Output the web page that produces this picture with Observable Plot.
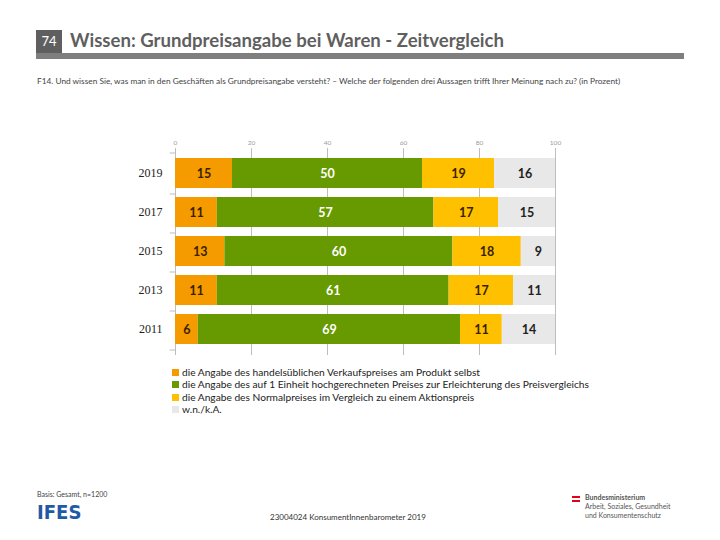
<!DOCTYPE html>
<html><head><meta charset="utf-8">
<script src="https://cdn.jsdelivr.net/npm/d3@7"></script>
<script src="https://cdn.jsdelivr.net/npm/@observablehq/plot@0.6"></script>
<style>
body{margin:0;background:#fff;font-family:Lato,"Open Sans",sans-serif;}
#page{position:relative;width:720px;height:540px;overflow:hidden;}
.abs{position:absolute;white-space:nowrap;}
</style></head>
<body><div id="page">
<div class="abs" style="left:36px;top:30px;width:26px;height:23px;background:#5f5f5f;color:#fff;font-size:13px;line-height:23px;text-align:center;">74</div>
<div class="abs" id="title" style="left:70px;top:29px;font-size:18.6px;font-weight:bold;color:#5f5f5f;">Wissen: Grundpreisangabe bei Waren - Zeitvergleich</div>
<div class="abs" style="left:36px;top:53px;width:648px;height:6px;background:#7f7f7f;"></div>
<div class="abs" id="sub" style="left:37px;top:76px;font-size:8.3px;color:#444;">F14. Und wissen Sie, was man in den Geschäften als Grundpreisangabe versteht? – Welche der folgenden drei Aussagen trifft Ihrer Meinung nach zu? (in Prozent)</div>
<div class="abs" id="chart" style="left:0;top:125px;"></div>
<div class="abs" id="legend" style="left:172px;top:366px;font-size:10.2px;color:#222;line-height:12.3px;"></div>
<div class="abs" style="left:37px;top:490px;font-size:7px;color:#444;">Basis: Gesamt, n=1200</div>
<div class="abs" style="left:37px;top:501px;font-size:19px;font-weight:900;color:#1f5aa6;font-family:'DejaVu Sans';transform:scaleX(0.95);transform-origin:left;">IFES</div>
<div class="abs" style="left:270px;top:512px;font-size:8px;color:#333;">23004024 KonsumentInnenbarometer 2019</div>
<div class="abs" style="left:572px;top:496px;width:8px;height:2px;background:#e2001a;"></div>
<div class="abs" style="left:572px;top:500px;width:8px;height:2px;background:#e2001a;"></div>
<div class="abs" style="left:585px;top:493px;font-size:7px;color:#555;line-height:9px;"><b>Bundesministerium</b><br>Arbeit, Soziales, Gesundheit<br>und Konsumentenschutz</div>
</div>
<script>
const years = ["2019","2017","2015","2013","2011"];
const categories = [
  "die Angabe des handelsüblichen Verkaufspreises am Produkt selbst",
  "die Angabe des auf 1 Einheit hochgerechneten Preises zur Erleichterung des Preisvergleichs",
  "die Angabe des Normalpreises im Vergleich zu einem Aktionspreis",
  "w.n./k.A."
];
const colors = ["#f59b00","#669a00","#ffc000","#e8e8e8"];
const textColors = ["#3a1f00","#ffffff","#3a1f00","#222222"];
const handelsueblich = [15,11,13,11,6];
const hochgerechnet = [50,57,60,61,69];
const normalpreis = [19,17,18,17,11];
const wnka = [16,15,9,11,14];
const xTicks = [0,20,40,60,80,100];

const series = [handelsueblich, hochgerechnet, normalpreis, wnka];
const data = [];
categories.forEach((c,ci)=>years.forEach((y,yi)=>data.push({year:y,cat:ci,value:series[ci][yi]})));

const chart = Plot.plot({
  width: 720, height: 235,
  marginLeft: 175, marginRight: 165, marginTop: 23, marginBottom: 5,
  x: {domain:[0,100]},
  y: {domain: years, padding: 0.22},
  color: {type:"identity"},
  style: {fontFamily:"Lato, sans-serif"},
  marks: [
    Plot.ruleX(xTicks, {stroke:"#bdbdbd", strokeWidth:1}),
    Plot.barX(data, Plot.stackX({x:"value", y:"year", z:"cat", fill: d=>colors[d.cat]})),
    Plot.text(data, Plot.stackX({x:"value", y:"year", z:"cat", text: d=>String(d.value), fill: d=>textColors[d.cat], fontWeight:"bold", fontSize:12.5})),
    Plot.ruleY(years, {y: d=>d, x1:-1.4, x2:0, dy:20.5, stroke:"#bdbdbd"}),
    Plot.ruleY(["2019"], {y: d=>d, x1:-1.4, x2:0, dy:-20.5, stroke:"#bdbdbd"}),
    Plot.axisX({anchor:"top", ticks:xTicks, tickSize:0, tickPadding:4, fontSize:6.5, color:"#9a9a9a", label:null}),
    Plot.axisY({anchor:"left", tickSize:0, tickPadding:13, fontSize:12, fontFamily:"Liberation Serif", color:"#222", label:null})
  ]
});
document.getElementById("chart").appendChild(chart);

const leg = document.getElementById("legend");
categories.forEach((c,i)=>{
  const row = document.createElement("div");
  row.innerHTML = `<span style="display:inline-block;width:7px;height:7px;background:${colors[i]};margin-right:3px;"></span>${c}`;
  leg.appendChild(row);
});
</script>
</body></html>
